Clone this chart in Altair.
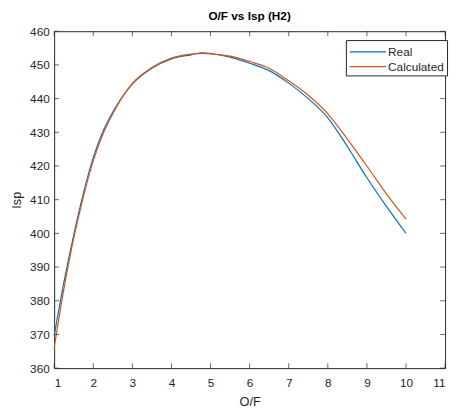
import altair as alt
import pandas as pd

of_vals = [1.0, 1.25, 1.5, 1.75, 2.0, 2.25, 2.5, 3.0, 3.5, 4.0, 4.5, 4.8, 5.0, 5.5, 6.0, 6.5, 7.0, 7.5, 8.0, 8.5, 9.0, 9.5, 10.0]
isp_real = [369.5, 385.5, 399.5, 412.0, 422.5, 430.3, 436.0, 444.3, 449.0, 451.8, 453.0, 453.6, 453.4, 452.3, 450.5, 448.3, 444.6, 440.0, 434.3, 425.8, 416.5, 408.0, 400.0]
isp_calc = [366.0, 383.5, 398.5, 411.0, 421.5, 429.5, 435.5, 444.5, 449.2, 452.0, 453.2, 453.4, 453.3, 452.6, 451.0, 449.0, 445.3, 441.0, 435.5, 428.0, 420.0, 411.7, 404.2]
series_names = ["Real", "Calculated"]
series_colors = ["#0072BD", "#D95319"]
x_ticks = [1, 2, 3, 4, 5, 6, 7, 8, 9, 10, 11]
y_ticks = [360, 370, 380, 390, 400, 410, 420, 430, 440, 450, 460]

rows = []
for o, r, c in zip(of_vals, isp_real, isp_calc):
    rows.append({"of": o, "isp": r, "series": series_names[0]})
    rows.append({"of": o, "isp": c, "series": series_names[1]})
df = pd.DataFrame(rows)

W, H = 398, 343
txt = "#262626"
font = "Liberation Sans"
TL = 5

xscale = alt.Scale(domain=[1, 11], nice=False, zero=False)
yscale = alt.Scale(domain=[360, 460], nice=False, zero=False)

xaxis = alt.Axis(values=x_ticks, tickSize=0, domain=False, grid=False,
                 labelPadding=10, titlePadding=7, format="d", labelOverlap=False,
                 labelFont=font, labelFontSize=12, labelColor=txt,
                 titleFont=font, titleFontSize=13, titleColor=txt, titleFontWeight="normal")
yaxis = alt.Axis(values=y_ticks, tickSize=0, domain=False, grid=False,
                 labelPadding=5, titlePadding=6, format="d", labelOverlap=False,
                 labelFont=font, labelFontSize=12, labelColor=txt,
                 titleFont=font, titleFontSize=13, titleColor=txt, titleFontWeight="normal")

lines = alt.Chart(df).mark_line(strokeWidth=1.2, interpolate="monotone").encode(
    x=alt.X("of:Q", scale=xscale, title="O/F", axis=xaxis),
    y=alt.Y("isp:Q", scale=yscale, title="Isp", axis=yaxis),
    color=alt.Color("series:N", scale=alt.Scale(domain=series_names, range=series_colors),
                    sort=series_names,
                    legend=alt.Legend(title=None, orient="none", legendX=297, legendY=9,
                                      symbolType="M-1,0H3.625", symbolSize=256, symbolStrokeWidth=1.2,
                                      strokeColor="#262626", padding=3, fillColor="white",
                                      labelFontSize=12, labelFont=font, labelColor=txt,
                                      labelOffset=22, rowPadding=0)),
)

xt = pd.DataFrame({"v": x_ticks})
yt = pd.DataFrame({"v": y_ticks})
tick_b = alt.Chart(xt).mark_tick(color=txt, thickness=1, size=TL).encode(
    x=alt.X("v:Q", scale=xscale, title="O/F", axis=xaxis), y=alt.value(H - TL / 2))
tick_t = alt.Chart(xt).mark_tick(color=txt, thickness=1, size=TL).encode(
    x=alt.X("v:Q", scale=xscale, title="O/F", axis=xaxis), y=alt.value(TL / 2))
tick_l = alt.Chart(yt).mark_tick(color=txt, thickness=1, size=TL, orient="horizontal").encode(
    y=alt.Y("v:Q", scale=yscale, title="Isp", axis=yaxis), x=alt.value(TL / 2))
tick_r = alt.Chart(yt).mark_tick(color=txt, thickness=1, size=TL, orient="horizontal").encode(
    y=alt.Y("v:Q", scale=yscale, title="Isp", axis=yaxis), x=alt.value(W - TL / 2))

chart = alt.layer(lines, tick_b, tick_t, tick_l, tick_r).properties(
    width=W, height=H,
    background="white",
    title=alt.Title("O/F vs Isp (H2)", fontSize=12, font=font, fontWeight="bold", color="black", offset=2),
    autosize=alt.AutoSizeParams(type="none"),
    padding={"left": 47, "top": 20, "right": 5, "bottom": 40},
).configure_view(stroke=txt, strokeWidth=1)

chart.save("out.html", embed_options={"renderer": "svg", "actions": False})
